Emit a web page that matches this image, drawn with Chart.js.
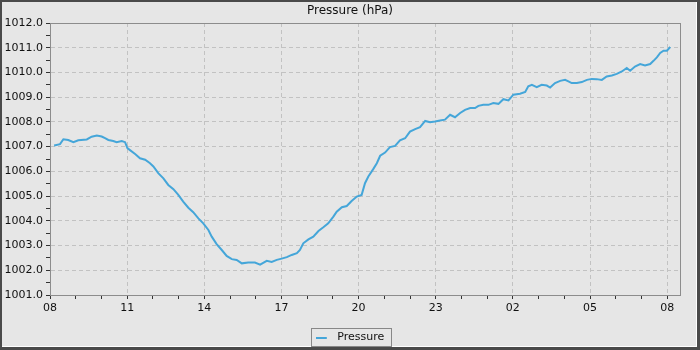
<!DOCTYPE html>
<html>
<head>
<meta charset="utf-8">
<script src="https://cdn.jsdelivr.net/npm/chart.js@4"></script>
<style>
  html, body { margin: 0; padding: 0; background: #e6e6e6; }
  #wrap { width: 700px; height: 350px; position: relative; }
</style>
</head>
<body>
<div id="wrap"><canvas id="pressureChart" width="700" height="350"></canvas></div>
<script>
// hours elapsed since 08:00
const hours = [
  0.16, 0.39, 0.52, 0.71, 0.91, 1.10, 1.43, 1.62, 1.82, 2.01, 2.14, 2.27, 2.46, 2.59, 2.79, 2.92,
  3.01, 3.11, 3.31, 3.50, 3.70, 3.89, 4.02, 4.21, 4.41, 4.60, 4.80, 4.99, 5.18, 5.38, 5.57, 5.77,
  5.96, 6.16, 6.29, 6.48, 6.68, 6.87, 7.07, 7.26, 7.46, 7.71, 7.97, 8.17, 8.43, 8.62, 8.82, 9.01,
  9.21, 9.40, 9.60, 9.72, 9.85, 10.05, 10.24, 10.44, 10.63, 10.82, 11.02, 11.15, 11.35, 11.54, 11.73, 11.93,
  12.12, 12.25, 12.38, 12.57, 12.71, 12.84, 13.03, 13.22, 13.42, 13.61, 13.81, 14.00, 14.20, 14.39, 14.59, 14.78,
  14.97, 15.17, 15.36, 15.56, 15.75, 15.95, 16.14, 16.34, 16.53, 16.66, 16.85, 17.05, 17.24, 17.44, 17.63, 17.83,
  18.02, 18.28, 18.48, 18.60, 18.74, 18.93, 19.12, 19.32, 19.45, 19.64, 19.84, 20.03, 20.16, 20.29, 20.49, 20.68,
  20.88, 21.07, 21.26, 21.46, 21.65, 21.85, 22.04, 22.24, 22.43, 22.56, 22.75, 22.95, 23.14, 23.34, 23.47, 23.60,
  23.73, 23.86, 23.99, 24.12
];
const pressure = [
  1007.05, 1007.10, 1007.30, 1007.27, 1007.18, 1007.26, 1007.29, 1007.40, 1007.45, 1007.41, 1007.34, 1007.27, 1007.23, 1007.18, 1007.23, 1007.18,
  1006.94, 1006.86, 1006.70, 1006.53, 1006.47, 1006.33, 1006.20, 1005.93, 1005.72, 1005.45, 1005.28, 1005.05, 1004.78, 1004.53, 1004.35, 1004.10,
  1003.90, 1003.63, 1003.36, 1003.06, 1002.82, 1002.58, 1002.45, 1002.42, 1002.28, 1002.31, 1002.31, 1002.23, 1002.38, 1002.34, 1002.42, 1002.47,
  1002.53, 1002.62, 1002.69, 1002.82, 1003.09, 1003.25, 1003.36, 1003.59, 1003.74, 1003.90, 1004.17, 1004.37, 1004.55, 1004.60, 1004.80, 1004.98,
  1005.05, 1005.52, 1005.79, 1006.09, 1006.33, 1006.63, 1006.76, 1006.98, 1007.03, 1007.25, 1007.34, 1007.61, 1007.71, 1007.79, 1008.04, 1007.99,
  1008.02, 1008.06, 1008.09, 1008.29, 1008.19, 1008.36, 1008.49, 1008.56, 1008.56, 1008.65, 1008.69, 1008.69, 1008.76, 1008.73, 1008.92, 1008.87,
  1009.10, 1009.14, 1009.21, 1009.44, 1009.50, 1009.41, 1009.50, 1009.47, 1009.39, 1009.57, 1009.66, 1009.70, 1009.64, 1009.57, 1009.57, 1009.61,
  1009.70, 1009.74, 1009.73, 1009.70, 1009.84, 1009.88, 1009.94, 1010.04, 1010.18, 1010.07, 1010.24, 1010.34, 1010.28, 1010.34, 1010.47, 1010.61,
  1010.79, 1010.88, 1010.88, 1011.03
];
const startHour = 8;
const yMin = 1001, yMax = 1012;

const LINE = "#45a6d9";
const FONT = "DejaVu Sans";

// little line sample for the legend
const sample = document.createElement("canvas");
sample.width = 16;
sample.height = 2;
const sctx = sample.getContext("2d");
sctx.fillStyle = LINE;
sctx.fillRect(0, 0, 11, 2);

const framePlugin = {
  id: "frame",
  beforeDraw(chart) {
    const c = chart.ctx;
    c.save();
    c.fillStyle = "#4a4a4a";
    c.fillRect(0, 0, 700, 350);
    c.fillStyle = "#e6e6e6";
    c.fillRect(2, 2, 695, 345);
    c.fillStyle = "#ffffff";
    c.fillRect(696, 2, 1, 345);
    c.fillRect(2, 346, 695, 1);
    c.restore();
  },
  afterDraw(chart) {
    const c = chart.ctx;
    const a = chart.chartArea;
    c.save();
    c.strokeStyle = "#8c8c8c";
    c.lineWidth = 1;
    c.strokeRect(Math.round(a.left) + 0.5, Math.round(a.top) + 0.5,
      Math.round(a.right - a.left), Math.round(a.bottom - a.top));
    // box round the legend entry
    const hb = chart.legend.legendHitBoxes[0];
    if (hb) {
      const top = Math.round(hb.top) - 3.5;
      c.strokeStyle = "#888";
      c.strokeRect(Math.round(hb.left) - 4.5, top, Math.round(hb.width) + 12, 346.5 - top);
    }
    c.restore();
  }
};

const pad2 = (n) => (n < 10 ? "0" : "") + n;

new Chart(document.getElementById("pressureChart"), {
  type: "line",
  data: {
    datasets: [
      {
        label: "Pressure",
        data: hours.map((h, i) => ({ x: h, y: pressure[i] })),
        borderColor: LINE,
        backgroundColor: LINE,
        borderWidth: 2,
        pointRadius: 0,
        tension: 0,
        pointStyle: sample,
      },
    ],
  },
  options: {
    responsive: false,
    animation: false,
    layout: { padding: { top: 0, right: 0, bottom: -3, left: 0 } },
    plugins: {
      title: {
        display: true,
        text: "Pressure (hPa)",
        color: "#111",
        font: { family: FONT, size: 12, weight: "normal" },
        padding: { top: 4, bottom: 4.6 },
      },
      tooltip: { enabled: false },
      legend: {
        position: "bottom",
        labels: {
          usePointStyle: true,
          pointStyleWidth: 16,
          boxHeight: 11,
          color: "#111",
          font: { family: FONT, size: 11 },
          padding: 6,
        },
      },
    },
    scales: {
      x: {
        type: "linear",
        min: 0,
        max: 24.5,
        afterFit: (s) => { s.height = 31; },
        border: { color: "#8c8c8c", dash: [4, 3] },
        grid: {
          color: (c) => (c.tick && c.tick.value % 3 === 0 ? "#c2c2c2" : "rgba(0,0,0,0)"),
          tickColor: "#333",
          tickLength: 4,
        },
        ticks: {
          stepSize: 1,
          includeBounds: false,
          autoSkip: false,
          maxRotation: 0,
          padding: 3,
          color: "#111",
          font: { family: FONT, size: 11 },
          callback: (v) => (v % 3 === 0 ? pad2((startHour + v) % 24) : ""),
        },
      },
      y: {
        min: yMin,
        max: yMax,
        afterFit: (s) => { s.width = 50; },
        border: { color: "#8c8c8c", dash: [4, 3] },
        grid: {
          color: (c) => (c.tick && Number.isInteger(c.tick.value) ? "#c2c2c2" : "rgba(0,0,0,0)"),
          tickColor: "#333",
          tickLength: 4,
        },
        ticks: {
          stepSize: 0.5,
          autoSkip: false,
          padding: 3,
          color: "#111",
          font: { family: FONT, size: 11 },
          callback: (v) => (Number.isInteger(v) ? v.toFixed(1) : ""),
        },
      },
      // empty strip that keeps the plot clear of the right edge
      gap: {
        position: "right",
        display: true,
        grid: { display: false },
        border: { display: false },
        ticks: { display: false },
        afterFit: (s) => { s.width = 20; },
      },
    },
  },
  plugins: [framePlugin],
});
</script>
</body>
</html>
